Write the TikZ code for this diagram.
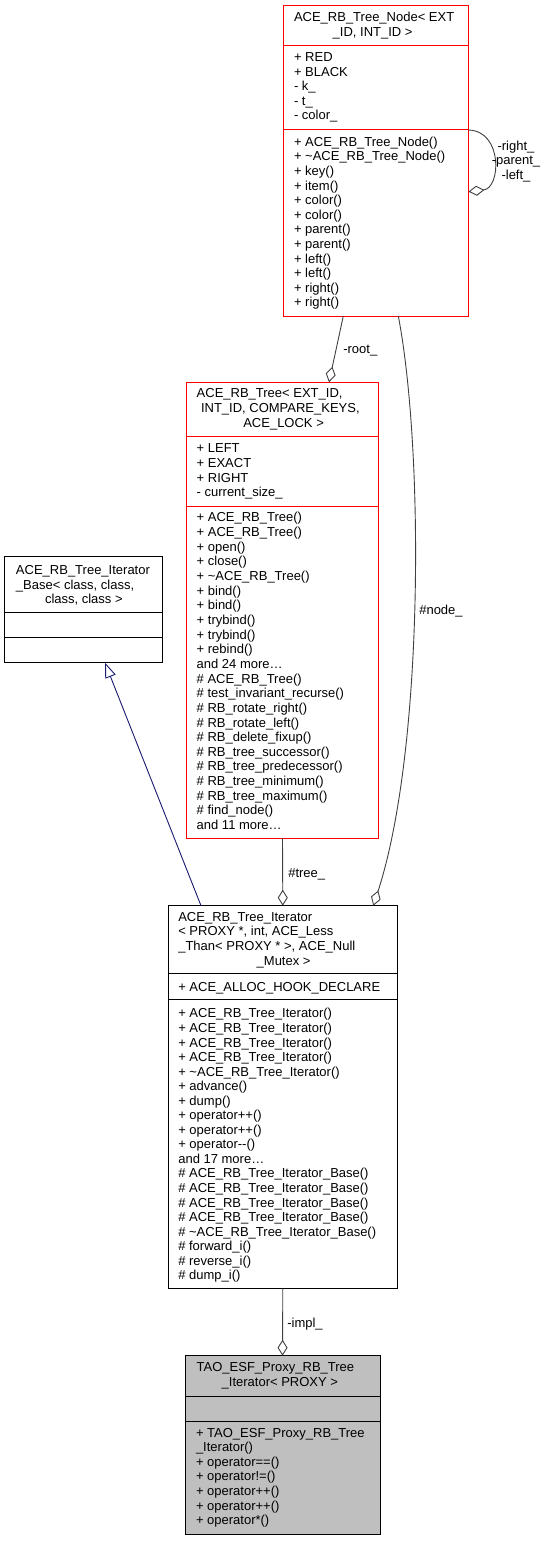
\documentclass[tikz,border=0pt]{standalone}
\usepackage{fontspec}
\setmainfont{Liberation Sans}
\usetikzlibrary{arrows.meta,calc}
\definecolor{edgegray}{HTML}{404040}
\definecolor{navyline}{HTML}{191970}
\definecolor{boxred}{HTML}{FF0000}
\definecolor{proxyfill}{HTML}{BFBFBF}
\tikzset{
 cls/.style={draw, rectangle, inner sep=0pt, outer sep=0pt, anchor=north west, line width=1pt},
 txt/.style={inner sep=0pt, outer sep=0pt, anchor=base west, font=\fontsize{13}{14.6}\selectfont},
 ctxt/.style={txt, anchor=base},
 sepline/.style={line width=1pt},
 agg/.style={draw=edgegray, line width=0.9pt, -{Diamond[open,fill=white,length=16pt,width=10pt]}},
 inh/.style={draw=navyline, line width=0.9pt, -{Triangle[open,fill=white,length=15pt,width=11pt]}},
}
\newcommand\rowlist[5]{%
 \foreach \t [count=\i from 0] in {#5} {\node[txt] (#1-\i) at (#2,{#3+\i*#4}) {\t};}}
\begin{document}
\begin{tikzpicture}[x=1pt,y=-1pt]
\useasboundingbox (0,0) rectangle (545,1541);

% ---------- ACE_RB_Tree_Node ----------
\node[cls, draw=boxred, minimum width=185.2pt, minimum height=310pt] (nb) at (283.3,6) {};
\draw[sepline, boxred] ($(nb.north west)+(0,39.7)$) -- ($(nb.north east)+(0,39.7)$);
\draw[sepline, boxred] ($(nb.north west)+(0,124)$) -- ($(nb.north east)+(0,124)$);
\node[txt] (nt1) at (294,21.6) {ACE\_RB\_Tree\_Node< EXT};
\node[txt] (nt2) at (332.7,36.6) {\_ID, INT\_ID >};
\rowlist{na}{294}{61.6}{14.6}{{+ RED},{+ BLACK},{- k\_},{- t\_},{- color\_}}
\rowlist{nm}{294}{146.3}{14.6}{{+ ACE\_RB\_Tree\_Node()},{+ \textasciitilde ACE\_RB\_Tree\_Node()},{+ key()},{+ item()},{+ color()},{+ color()},{+ parent()},{+ parent()},{+ left()},{+ left()},{+ right()},{+ right()}}

% ---------- ACE_RB_Tree ----------
\node[cls, draw=boxred, minimum width=191.6pt, minimum height=456pt] (tb) at (186.7,382.3) {};
\draw[sepline, boxred] ($(tb.north west)+(0,54.4)$) -- ($(tb.north east)+(0,54.4)$);
\draw[sepline, boxred] ($(tb.north west)+(0,123.7)$) -- ($(tb.north east)+(0,123.7)$);
\node[txt] (tt1) at (196.7,397.9) {ACE\_RB\_Tree< EXT\_ID,};
\node[txt] (tt2) at (201,412.6) {INT\_ID, COMPARE\_KEYS,};
\node[txt] (tt3) at (243.3,427.3) {ACE\_LOCK >};
\rowlist{ta}{196.7}{452.9}{14.6}{{+ LEFT},{+ EXACT},{+ RIGHT},{- current\_size\_}}
\rowlist{tm}{196.7}{521.9}{14.65}{{+ ACE\_RB\_Tree()},{+ ACE\_RB\_Tree()},{+ open()},{+ close()},{+ \textasciitilde ACE\_RB\_Tree()},{+ bind()},{+ bind()},{+ trybind()},{+ trybind()},{+ rebind()},{and 24 more…},{\# ACE\_RB\_Tree()},{\# test\_invariant\_recurse()},{\# RB\_rotate\_right()},{\# RB\_rotate\_left()},{\# RB\_delete\_fixup()},{\# RB\_tree\_successor()},{\# RB\_tree\_predecessor()},{\# RB\_tree\_minimum()},{\# RB\_tree\_maximum()},{\# find\_node()},{and 11 more…}}

% ---------- ACE_RB_Tree_Iterator_Base ----------
\node[cls, draw=black, minimum width=158pt, minimum height=106pt] (bb) at (4.7,556.7) {};
\draw[sepline] ($(bb.north west)+(0,55.6)$) -- ($(bb.north east)+(0,55.6)$);
\draw[sepline] ($(bb.north west)+(0,81)$) -- ($(bb.north east)+(0,81)$);
\node[txt] (bt1) at (16,574.6) {ACE\_RB\_Tree\_Iterator};
\node[txt] (bt2) at (16,589.2) {\_Base< class, class,};
\node[txt] (bt3) at (45,603.8) {class, class >};

% ---------- ACE_RB_Tree_Iterator ----------
\node[cls, draw=black, minimum width=229pt, minimum height=382.6pt] (ib) at (168.3,905.7) {};
\draw[sepline] ($(ib.north west)+(0,67.6)$) -- ($(ib.north east)+(0,67.6)$);
\draw[sepline] ($(ib.north west)+(0,93.6)$) -- ($(ib.north east)+(0,93.6)$);
\node[txt] (it1) at (178.3,921.3) {ACE\_RB\_Tree\_Iterator};
\node[txt] (it2) at (178.3,935.9) {< PROXY *, int, ACE\_Less};
\node[txt] (it3) at (178.3,950.5) {\_Than< PROXY * >, ACE\_Null};
\node[txt] (it4) at (256.7,965.1) {\_Mutex >};
\node[txt] (ia0) at (178.3,991.3) {+ ACE\_ALLOC\_HOOK\_DECLARE};
\rowlist{im}{178.3}{1017.9}{14.55}{{+ ACE\_RB\_Tree\_Iterator()},{+ ACE\_RB\_Tree\_Iterator()},{+ ACE\_RB\_Tree\_Iterator()},{+ ACE\_RB\_Tree\_Iterator()},{+ \textasciitilde ACE\_RB\_Tree\_Iterator()},{+ advance()},{+ dump()},{+ operator++()},{+ operator++()},{+ operator-{}-()},{and 17 more…},{\# ACE\_RB\_Tree\_Iterator\_Base()},{\# ACE\_RB\_Tree\_Iterator\_Base()},{\# ACE\_RB\_Tree\_Iterator\_Base()},{\# ACE\_RB\_Tree\_Iterator\_Base()},{\# \textasciitilde ACE\_RB\_Tree\_Iterator\_Base()},{\# forward\_i()},{\# reverse\_i()},{\# dump\_i()}}

% ---------- TAO_ESF_Proxy_RB_Tree_Iterator ----------
\node[cls, draw=black, fill=proxyfill, minimum width=195pt, minimum height=178.6pt] (pb) at (185,1355.7) {};
\draw[sepline] ($(pb.north west)+(0,41)$) -- ($(pb.north east)+(0,41)$);
\draw[sepline] ($(pb.north west)+(0,65.3)$) -- ($(pb.north east)+(0,65.3)$);
\node[txt] (pt1) at (196.7,1371.9) {TAO\_ESF\_Proxy\_RB\_Tree};
\node[txt] (pt2) at (221.7,1386.6) {\_Iterator< PROXY >};
\rowlist{pm}{196}{1437.3}{14.55}{{+ TAO\_ESF\_Proxy\_RB\_Tree},{\_Iterator()},{+ operator==()},{+ operator!=()},{+ operator++()},{+ operator++()},{+ operator*()}}

% ---------- connectors ----------
\draw[agg] ($(nb.north east)+(0,124)$) .. controls (503,131) and (501,188) .. ($(nb.north east)+(0,185.7)$);
\node[ctxt] (lself1) at (516,150.3) {-right\_};
\node[ctxt] (lself2) at (516,164.9) {-parent\_};
\node[ctxt] (lself3) at (516,179.0) {-left\_};

\draw[agg] ($(nb.south west)+(60,0)$) -- ($(tb.north west)+(142.3,0)$);
\node[txt] (lroot) at (343.3,353.6) {-root\_};

\draw[agg] ($(nb.south west)+(115,0)$) .. controls (424,450) and (424,750) .. ($(ib.north west)+(205,0)$);
\node[txt] (lnode) at (419.3,614.6) {\#node\_};

\draw[agg] (tb.south) -- (ib.north);
\node[txt] (ltree) at (288.3,877.9) {\#tree\_};

\draw[inh] ($(ib.north west)+(32.7,0)$) -- ($(bb.south west)+(100.3,0)$);

\draw[agg] (ib.south) -- (pb.north);
\node[txt] (limpl) at (287.3,1327.9) {-impl\_};
\end{tikzpicture}
\end{document}
